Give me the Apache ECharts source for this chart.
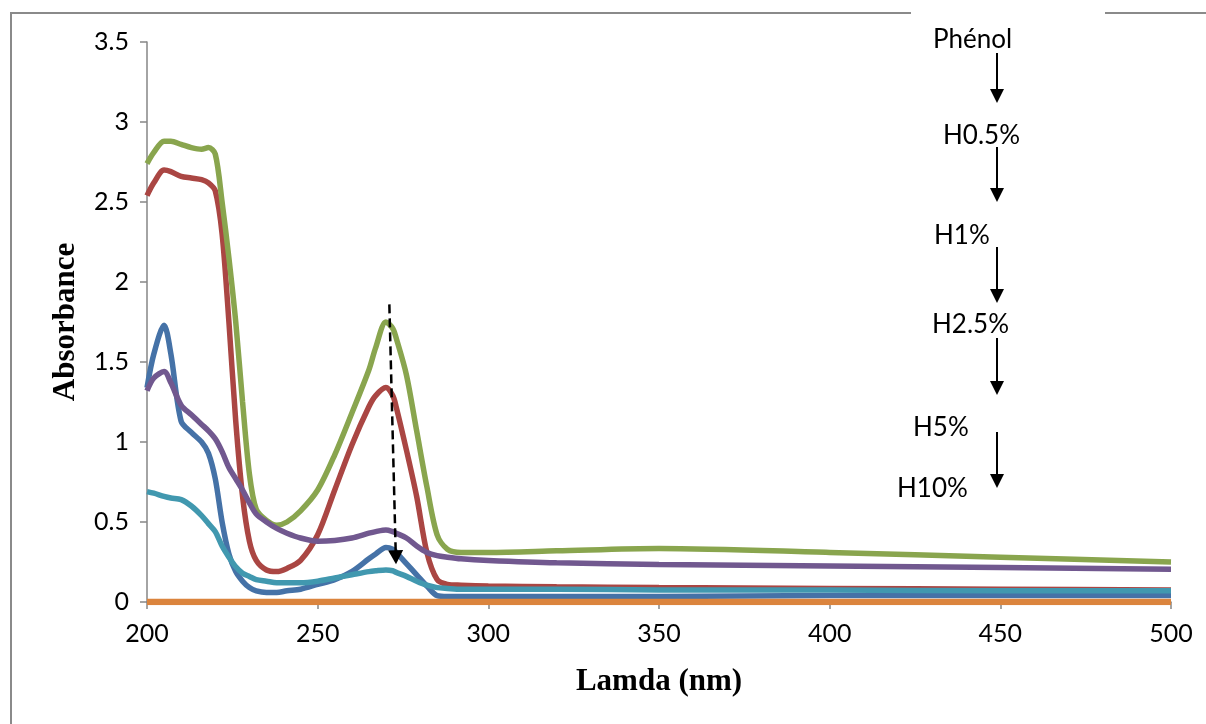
<!DOCTYPE html>
<html>
<head>
<meta charset="utf-8">
<script src="https://cdn.jsdelivr.net/npm/echarts@6/dist/echarts.min.js"></script>
<style>
html,body{margin:0;padding:0;background:#fff;}
#chart{width:1206px;height:724px;}
</style>
</head>
<body>
<div id="chart"></div>
<script>
// Wavelength grid (nm)
const lamda = [200,202,205,207,210,213,216,218,220,222,224,226,228,230,232,235,238,241,245,250,255,260,265,267,270,272,273,276,279,282,285,288,292,300,320,350,400,450,500];

// Absorbance values per sample
const phenol = [2.74,2.81,2.88,2.88,2.86,2.84,2.83,2.84,2.80,2.50,2.15,1.75,1.25,0.80,0.58,0.51,0.48,0.50,0.57,0.70,0.92,1.18,1.45,1.59,1.75,1.71,1.65,1.42,1.07,0.72,0.42,0.33,0.31,0.31,0.32,0.335,0.31,0.28,0.25];
const h05    = [2.54,2.62,2.70,2.69,2.66,2.65,2.64,2.62,2.57,2.30,1.75,1.13,0.66,0.38,0.26,0.20,0.19,0.21,0.26,0.42,0.70,0.98,1.22,1.29,1.34,1.29,1.22,0.95,0.66,0.31,0.14,0.11,0.105,0.10,0.095,0.09,0.085,0.08,0.075];
const h1     = [1.32,1.40,1.44,1.37,1.23,1.17,1.11,1.07,1.02,0.94,0.84,0.77,0.70,0.62,0.55,0.50,0.46,0.43,0.40,0.38,0.385,0.40,0.43,0.44,0.45,0.44,0.43,0.40,0.35,0.31,0.29,0.28,0.27,0.26,0.245,0.235,0.225,0.215,0.205];
const h25    = [1.34,1.55,1.73,1.55,1.13,1.06,1.00,0.93,0.77,0.50,0.30,0.19,0.13,0.09,0.07,0.06,0.06,0.07,0.08,0.11,0.14,0.19,0.27,0.30,0.34,0.33,0.31,0.24,0.17,0.10,0.04,0.035,0.035,0.035,0.035,0.035,0.04,0.04,0.04];
const h5     = [0.69,0.68,0.66,0.65,0.64,0.60,0.54,0.49,0.44,0.35,0.28,0.22,0.18,0.16,0.14,0.13,0.12,0.12,0.12,0.13,0.15,0.17,0.19,0.195,0.20,0.195,0.185,0.16,0.13,0.105,0.09,0.085,0.08,0.08,0.08,0.075,0.075,0.07,0.07];
const h10    = [0,0,0,0,0,0,0,0,0,0,0,0,0,0,0,0,0,0,0,0,0,0,0,0,0,0,0,0,0,0,0,0,0,0,0,0,0,0,0];

// Dashed arrow endpoints (nm, absorbance)
const arrowStart = [271.0, 1.86];
const arrowEnd = [272.9, 0.28];

// Tick settings
const xTicks = {min:200, max:500, interval:50};
const yTicks = {min:0, max:3.5, interval:0.5};

// Annotation labels on the right
const steps = ['Phénol','H0.5%','H1%','H2.5%','H5%','H10%'];

function pairs(vals){ return lamda.map((x,i)=>[x, vals[i]]); }

const chart = echarts.init(document.getElementById('chart'), null, {renderer:'canvas'});

const tickFont = 'Lato';
const lineW = 5.5;

function mkSeries(name, vals, color, width, extra){
  return Object.assign({
    name: name,
    type: 'line',
    data: pairs(vals),
    smooth: 0.3,
    showSymbol: false,
    symbol: 'none',
    lineStyle: {color: color, width: width},
    itemStyle: {color: color},
    silent: true,
    animation: false
  }, extra || {});
}

// Annotation graphics
const labelPos = [
  {x:933, y:40},
  {x:943, y:136},
  {x:934, y:236},
  {x:932, y:325},
  {x:913, y:428},
  {x:897, y:489}
];
const arrows = [
  [53, 103],
  [147, 202],
  [247, 303],
  [338, 395],
  [432, 488]
];
const graphics = [];
// frame
graphics.push({type:'line', shape:{x1:11,y1:13,x2:911,y2:13}, style:{stroke:'#8a8a8a', lineWidth:2}, silent:true});
graphics.push({type:'line', shape:{x1:1105,y1:13,x2:1206,y2:13}, style:{stroke:'#8a8a8a', lineWidth:2}, silent:true});
graphics.push({type:'line', shape:{x1:11,y1:12,x2:11,y2:724}, style:{stroke:'#8a8a8a', lineWidth:2}, silent:true});
steps.forEach((s,i)=>{
  graphics.push({type:'text', x:labelPos[i].x, y:labelPos[i].y,
    style:{text:s, font:'26px Lato', fill:'#000', textVerticalAlign:'middle', textAlign:'left'}, silent:true});
});
arrows.forEach(a=>{
  const ax = 997;
  graphics.push({type:'line', shape:{x1:ax,y1:a[0],x2:ax,y2:a[1]-12}, style:{stroke:'#000', lineWidth:2}, silent:true});
  graphics.push({type:'polygon', shape:{points:[[ax-7,a[1]-14],[ax+7,a[1]-14],[ax,a[1]]]}, style:{fill:'#000'}, silent:true});
});

const option = {
  backgroundColor: '#ffffff',
  animation: false,
  grid: {left:147, right:35, top:42, bottom:122, containLabel:false},
  xAxis: {
    type: 'value',
    min: xTicks.min, max: xTicks.max, interval: xTicks.interval,
    name: 'Lamda (nm)',
    nameLocation: 'middle',
    nameGap: 64,
    nameTextStyle: {fontFamily:'Liberation Serif', fontWeight:'bold', fontSize:31, color:'#000'},
    axisLine: {show:true, onZero:false, lineStyle:{color:'#868686', width:1.5}},
    axisTick: {show:true, length:7, lineStyle:{color:'#868686', width:1.5}},
    axisLabel: {fontFamily:tickFont, fontSize:25, color:'#000', margin:19},
    splitLine: {show:false}
  },
  yAxis: {
    type: 'value',
    min: yTicks.min, max: yTicks.max, interval: yTicks.interval,
    name: 'Absorbance',
    nameLocation: 'middle',
    nameRotate: 90,
    nameGap: 66,
    nameTextStyle: {fontFamily:'Liberation Serif', fontWeight:'bold', fontSize:31, color:'#000'},
    axisLine: {show:true, lineStyle:{color:'#868686', width:1.5}},
    axisTick: {show:true, length:7, lineStyle:{color:'#868686', width:1.5}},
    axisLabel: {fontFamily:tickFont, fontSize:25, color:'#000', margin:18},
    splitLine: {show:false}
  },
  series: [
    mkSeries('H2.5%', h25, '#4572A7', lineW),
    mkSeries('H0.5%', h05, '#AA4643', lineW),
    mkSeries('Phénol', phenol, '#89A54E', lineW),
    mkSeries('H1%', h1, '#71588F', lineW),
    mkSeries('H5%', h5, '#4198AF', lineW),
    mkSeries('H10%', h10, '#DB843D', 6.5, {
      markLine: {
        silent: true,
        animation: false,
        symbol: ['none','triangle'],
        symbolSize: [15, 14],
        label: {show:false},
        lineStyle: {color:'#000', width:2.5, type:[9,5]},
        itemStyle: {color:'#000'},
        data: [[{coord: arrowStart}, {coord: arrowEnd}]]
      }
    })
  ],
  graphic: graphics
};
chart.setOption(option);
</script>
</body>
</html>
